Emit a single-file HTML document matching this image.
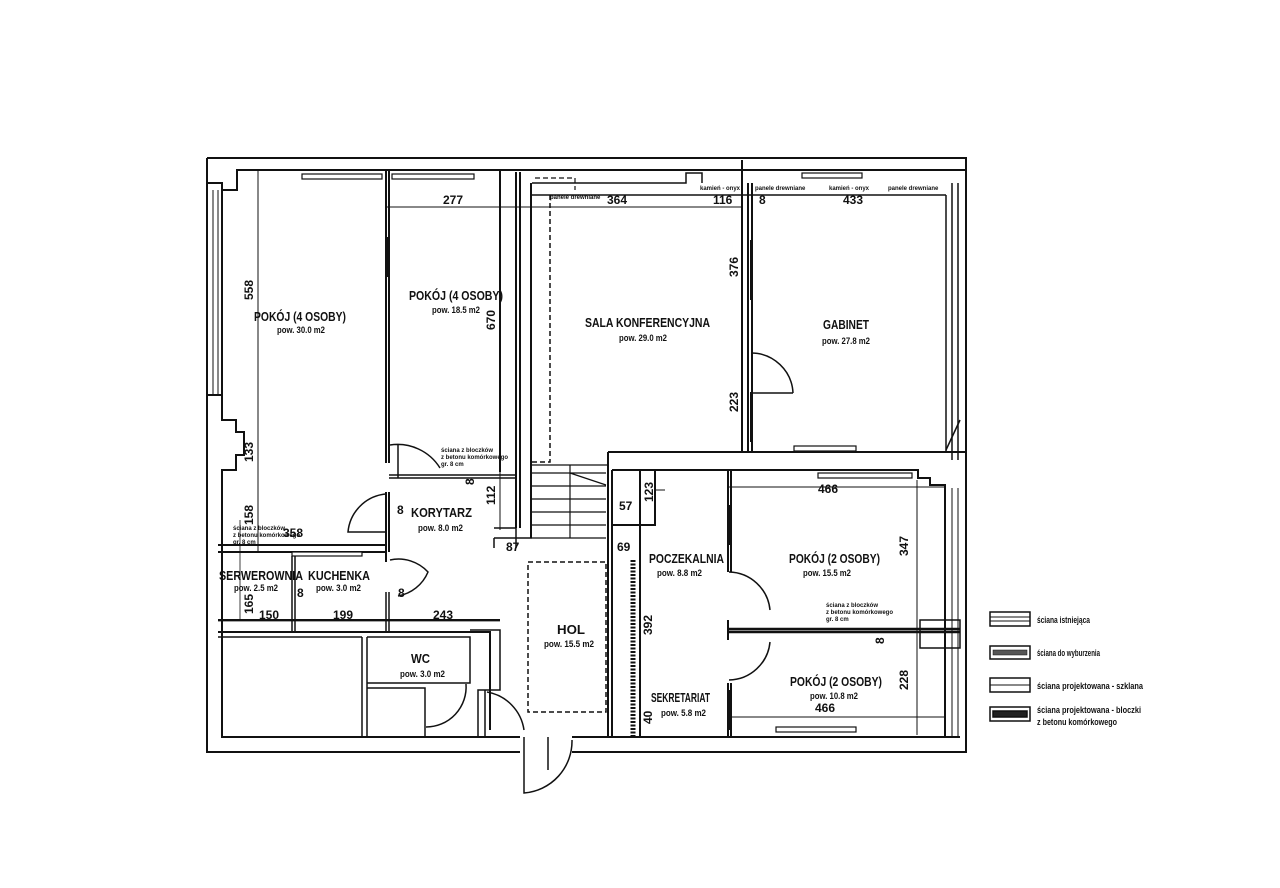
<!DOCTYPE html>
<html><head><meta charset="utf-8"><style>
html,body{margin:0;padding:0;background:#fff;}
svg{display:block;}
text{font-family:"Liberation Sans",sans-serif;font-weight:bold;fill:#111;}
.l{font-size:13px;}
.s{font-size:9px;}
.d{font-size:12px;}
.t{font-size:6px;}
</style></head><body>
<svg width="1280" height="888" viewBox="0 0 1280 888" xmlns="http://www.w3.org/2000/svg">
<g stroke="#111" fill="none" stroke-width="2">
<path d="M207 158 H966 V460"/>
<path d="M207 158 V752 H520"/>
<path d="M572 752 H966 V452"/>
<path d="M207 183 H222 V190 H237 V170 H966"/>
<path d="M222 190 V395"/>
<path d="M213 190 V395 M218 190 V395" stroke-width="1"/>
<path d="M207 395 H222 V420 H236 V432 H244 V455 H236 V470 H222 V737 H520"/>
<path d="M572 737 H960"/>
<path d="M258 170 V552" stroke-width="1"/>
<path d="M386 170 V463 M389 170 V463" stroke-width="2"/>
<path d="M386 492 V552 M389 492 V552"/>
<path d="M500 170 V472 M516 172 V528 M520 172 V528 M531 183 V538"/>
<path d="M389 475 H516 M389 478 H516" stroke-width="1.5"/>
<path d="M387 207 H500 M500 207 H742" stroke-width="1"/>
<path d="M532 183 H686 V173 H702 V183" stroke-width="1.5"/>
<path d="M532 195 H946" stroke-width="1.5"/>
<path d="M550 195 V462 H532" stroke-dasharray="5,3" stroke-width="1.5"/>
<path d="M535 178 H575 V190" stroke-dasharray="5,3" stroke-width="1.2"/>
<path d="M742 160 V452 M748 183 V452 M752 183 V452"/>
<path d="M751 353 A42 42 0 0 1 793 393 M751 393 H793" stroke-width="1.5"/>
<path d="M946 195 V452 M952 183 V460 M958 183 V460" stroke-width="1.5"/>
<path d="M946 450 L960 420" stroke-width="1.5"/>
<path d="M608 452 H966 M608 452 V737 M612 470 V737"/>
<path d="M612 470 H918 V478 H930 V485 H945 V737"/>
<path d="M945 488 V737 M952 488 V737 M958 488 V737" stroke-width="1"/>
<path d="M612 470 H655 V525 H612"/>
<path d="M640 470 V737"/>
<path d="M728 470 V572 M728 620 V640 M728 683 V737 M731 470 V572 M731 683 V737"/>
<path d="M728 629 H960 M728 632 H960" stroke-width="2.5"/>
<path d="M920 620 H960 V648 H920 Z" stroke-width="1.5"/>
<path d="M729 572 A42 42 0 0 1 770 610 M729 680 A42 42 0 0 0 770 642" stroke-width="1.5"/>
<path d="M728 487 H945 M728 717 H945 M917 480 V735" stroke-width="1"/>
<path d="M633 560 V737" stroke-width="5" stroke-dasharray="2,1.5"/>
<path d="M532 465 H608 M532 473 H606 M532 486 H606 M532 499 H606 M532 512 H606 M532 525 H606 M532 538 H606 M570 465 V538 M570 473 L606 485" stroke-width="1.2"/>
<path d="M528 562 H606 V712 H528 Z" stroke-dasharray="5,3" stroke-width="1.5"/>
<path d="M494 538 H532 M494 528 H516 V548 M494 538 V548" stroke-width="1.5"/>
<path d="M218 545 H386 M218 552 H386 M386 552 V562" stroke-width="2"/>
<path d="M390 445 A50 50 0 0 1 440 468 M398 445 V478" stroke-width="1.5"/>
<path d="M386 494 A42 42 0 0 0 348 532 H386" stroke-width="1.5"/>
<path d="M390 560 A40 40 0 0 1 428 572 A40 40 0 0 1 398 596" stroke-width="1.5"/>
<path d="M292 556 V632 M295 556 V632 M386 592 V632 M389 592 V632" stroke-width="1.5"/>
<path d="M218 620 H500 M218 632 H490 V730" stroke-width="2"/>
<path d="M362 637 V737 M367 637 V737 M367 637 H470 V683 H367 M367 688 H425 V737" stroke-width="1.5"/>
<path d="M218 637 H362" stroke-width="1.5"/>
<path d="M470 630 H500 V690 H478 V737 M485 690 V737" stroke-width="1.5"/>
<path d="M426 727 A40 40 0 0 0 466 684" stroke-width="1.5"/>
<path d="M487 692 A45 45 0 0 1 524 730" stroke-width="1.5"/>
<path d="M524 737 V793 A52 52 0 0 0 572 740" stroke-width="1.5"/>
<path d="M548 737 V770" stroke-width="1.5"/>
<path d="M218 621 H500 M240 520 V620" stroke-width="0.8"/>
<path d="M655 490 H665 M500 452 V530" stroke-width="1"/>
</g>
<g fill="#fff" stroke="#111" stroke-width="1.2">
<rect x="302" y="174" width="80" height="5"/>
<rect x="392" y="174" width="82" height="5"/>
<rect x="802" y="173" width="60" height="5"/>
<rect x="794" y="446" width="62" height="5"/>
<rect x="818" y="473" width="94" height="5"/>
<rect x="776" y="727" width="80" height="5"/>
<rect x="292" y="552" width="70" height="4"/>
</g>
<g fill="#111">
<rect x="387" y="237" width="3" height="40"/>
<rect x="750" y="240" width="3" height="60"/>
<rect x="750" y="392" width="3" height="50"/>
<rect x="729" y="505" width="3" height="40"/>
<rect x="729" y="690" width="3" height="40"/>
</g>
<g lengthAdjust="spacingAndGlyphs">
<text class="l" x="254" y="321" textLength="92" lengthAdjust="spacingAndGlyphs">POKÓJ (4 OSOBY)</text>
<text class="s" x="277" y="333" textLength="48" lengthAdjust="spacingAndGlyphs">pow. 30.0 m2</text>
<text class="l" x="409" y="300" textLength="94" lengthAdjust="spacingAndGlyphs">POKÓJ (4 OSOBY)</text>
<text class="s" x="432" y="313" textLength="48" lengthAdjust="spacingAndGlyphs">pow. 18.5 m2</text>
<text class="l" x="585" y="327" textLength="125" lengthAdjust="spacingAndGlyphs">SALA KONFERENCYJNA</text>
<text class="s" x="619" y="341" textLength="48" lengthAdjust="spacingAndGlyphs">pow. 29.0 m2</text>
<text class="l" x="823" y="329" textLength="46" lengthAdjust="spacingAndGlyphs">GABINET</text>
<text class="s" x="822" y="344" textLength="48" lengthAdjust="spacingAndGlyphs">pow. 27.8 m2</text>
<text class="l" x="411" y="517" textLength="61" lengthAdjust="spacingAndGlyphs">KORYTARZ</text>
<text class="s" x="418" y="531" textLength="45" lengthAdjust="spacingAndGlyphs">pow. 8.0 m2</text>
<text class="l" x="219" y="580" textLength="84" lengthAdjust="spacingAndGlyphs">SERWEROWNIA</text>
<text class="l" x="308" y="580" textLength="62" lengthAdjust="spacingAndGlyphs">KUCHENKA</text>
<text class="s" x="234" y="591" textLength="44" lengthAdjust="spacingAndGlyphs">pow. 2.5 m2</text>
<text class="s" x="316" y="591" textLength="45" lengthAdjust="spacingAndGlyphs">pow. 3.0 m2</text>
<text class="l" x="411" y="663" textLength="19" lengthAdjust="spacingAndGlyphs">WC</text>
<text class="s" x="400" y="677" textLength="45" lengthAdjust="spacingAndGlyphs">pow. 3.0 m2</text>
<text class="l" x="557" y="634" textLength="28" lengthAdjust="spacingAndGlyphs">HOL</text>
<text class="s" x="544" y="647" textLength="50" lengthAdjust="spacingAndGlyphs">pow. 15.5 m2</text>
<text class="l" x="649" y="563" textLength="75" lengthAdjust="spacingAndGlyphs">POCZEKALNIA</text>
<text class="s" x="657" y="576" textLength="45" lengthAdjust="spacingAndGlyphs">pow. 8.8 m2</text>
<text class="l" x="789" y="563" textLength="91" lengthAdjust="spacingAndGlyphs">POKÓJ (2 OSOBY)</text>
<text class="s" x="803" y="576" textLength="48" lengthAdjust="spacingAndGlyphs">pow. 15.5 m2</text>
<text class="l" x="790" y="686" textLength="92" lengthAdjust="spacingAndGlyphs">POKÓJ (2 OSOBY)</text>
<text class="s" x="810" y="699" textLength="48" lengthAdjust="spacingAndGlyphs">pow. 10.8 m2</text>
<text class="l" x="651" y="702" textLength="59" lengthAdjust="spacingAndGlyphs">SEKRETARIAT</text>
<text class="s" x="661" y="716" textLength="45" lengthAdjust="spacingAndGlyphs">pow. 5.8 m2</text>
</g>
<text class="d" x="443" y="204">277</text>
<text class="d" x="607" y="204">364</text>
<text class="d" x="713" y="204">116</text>
<text class="d" x="759" y="204">8</text>
<text class="d" x="843" y="204">433</text>
<text class="d" x="818" y="493">466</text>
<text class="d" x="815" y="712">466</text>
<text class="d" x="283" y="537">358</text>
<text class="d" x="259" y="619">150</text>
<text class="d" x="333" y="619">199</text>
<text class="d" x="433" y="619">243</text>
<text class="d" x="506" y="551">87</text>
<text class="d" x="617" y="551">69</text>
<text class="d" x="619" y="510">57</text>
<text class="d" x="397" y="514">8</text>
<text class="d" x="398" y="597">8</text>
<text class="d" x="297" y="597">8</text>
<text class="d" transform="translate(253,300) rotate(-90)">558</text>
<text class="d" transform="translate(253,462) rotate(-90)">133</text>
<text class="d" transform="translate(253,525) rotate(-90)">158</text>
<text class="d" transform="translate(253,614) rotate(-90)">165</text>
<text class="d" transform="translate(495,330) rotate(-90)">670</text>
<text class="d" transform="translate(495,505) rotate(-90)">112</text>
<text class="d" transform="translate(474,485) rotate(-90)">8</text>
<text class="d" transform="translate(738,277) rotate(-90)">376</text>
<text class="d" transform="translate(738,412) rotate(-90)">223</text>
<text class="d" transform="translate(653,502) rotate(-90)">123</text>
<text class="d" transform="translate(652,635) rotate(-90)">392</text>
<text class="d" transform="translate(652,724) rotate(-90)">40</text>
<text class="d" transform="translate(908,556) rotate(-90)">347</text>
<text class="d" transform="translate(884,644) rotate(-90)">8</text>
<text class="d" transform="translate(908,690) rotate(-90)">228</text>
<text class="t" x="441" y="452">ściana z bloczków</text>
<text class="t" x="441" y="459">z betonu komórkowego</text>
<text class="t" x="441" y="466">gr. 8 cm</text>
<text class="t" x="233" y="530">ściana z bloczków</text>
<text class="t" x="233" y="537">z betonu komórkowego</text>
<text class="t" x="233" y="544">gr. 8 cm</text>
<text class="t" x="826" y="607">ściana z bloczków</text>
<text class="t" x="826" y="614">z betonu komórkowego</text>
<text class="t" x="826" y="621">gr. 8 cm</text>
<text class="t" x="550" y="199">panele drewniane</text>
<text class="t" x="700" y="190">kamień - onyx</text>
<text class="t" x="755" y="190">panele drewniane</text>
<text class="t" x="829" y="190">kamień - onyx</text>
<text class="t" x="888" y="190">panele drewniane</text>
<g stroke="#111" stroke-width="1.5" fill="#fff">
<rect x="990" y="612" width="40" height="14"/>
<line x1="990" y1="617" x2="1030" y2="617" stroke-width="1"/>
<line x1="990" y1="621" x2="1030" y2="621" stroke-width="1"/>
<rect x="990" y="646" width="40" height="13"/>
<rect x="993" y="650" width="34" height="5" fill="#555" stroke-width="0.5"/>
<rect x="990" y="678" width="40" height="14"/>
<line x1="990" y1="685" x2="1030" y2="685" stroke-width="1"/>
<rect x="990" y="707" width="40" height="14"/>
<rect x="993" y="711" width="34" height="6" fill="#222"/>
</g>
<text class="s" x="1037" y="623" textLength="53" lengthAdjust="spacingAndGlyphs">ściana istniejąca</text>
<text class="s" x="1037" y="656" textLength="63" lengthAdjust="spacingAndGlyphs">ściana do wyburzenia</text>
<text class="s" x="1037" y="689" textLength="106" lengthAdjust="spacingAndGlyphs">ściana projektowana - szklana</text>
<text class="s" x="1037" y="713" textLength="104" lengthAdjust="spacingAndGlyphs">ściana projektowana - bloczki</text>
<text class="s" x="1037" y="725" textLength="80" lengthAdjust="spacingAndGlyphs">z betonu komórkowego</text>
</svg>
</body></html>
